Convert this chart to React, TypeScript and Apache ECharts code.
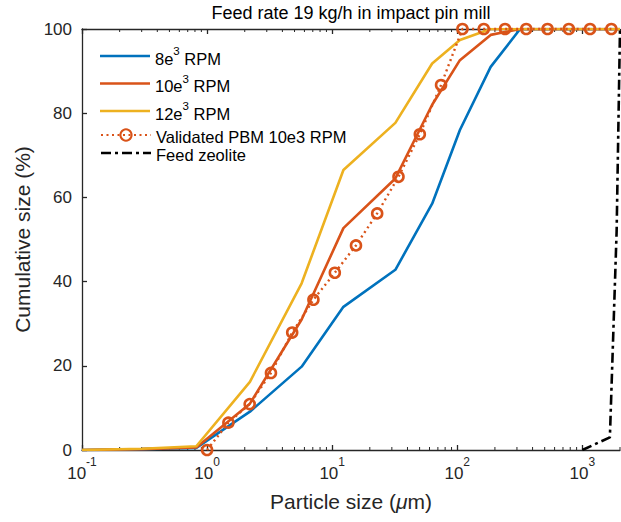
import React, { useEffect, useRef } from 'react';
import * as echarts from 'echarts';

const FONT = 'Liberation Sans, Arial, Helvetica, sans-serif';
const TXT = '#262626';

const seriesNames = ['8e3 RPM', '10e3 RPM', '12e3 RPM', 'Validated PBM 10e3 RPM', 'Feed zeolite'];
const seriesColors = ['#0072BD', '#D95319', '#EDB120', '#D95319', '#000000'];

const expSizes = [0.1, 0.3, 0.82, 2.2, 5.7, 12.3, 32, 63, 105, 185, 318, 2000];
const rpm8 = [0, 0.2, 0.5, 9.1, 19.8, 34.0, 42.8, 58.5, 76, 91, 100, 100];
const rpm10 = [0, 0.2, 0.6, 11, 31, 52.7, 64.5, 82, 92.6, 98.6, 100, 100];
const rpm12 = [0, 0.3, 0.9, 16.2, 39.6, 66.5, 77.7, 91.8, 97.4, 100, 100, 100];

const pbmSizes = [1.0, 1.48, 2.19, 3.24, 4.79, 7.08, 10.5, 15.5, 22.9, 33.9, 50.2, 74.2, 110, 163, 241, 356, 527, 780, 1153, 1706];
const pbmValues = [0, 6.5, 10.9, 18.3, 27.9, 35.7, 42.1, 48.6, 56.2, 64.9, 75.0, 86.7, 100, 100, 100, 100, 100, 100, 100, 100];

const feedSizes = [1000, 1660, 1880, 2000];
const feedValues = [0, 3, 52, 100];

const xMin = 0.1;
const xMax = 2000;
const yTicks = [0, 20, 40, 60, 80, 100];
const minorTicks = [
  0.2, 0.3, 0.4, 0.5, 0.6, 0.7, 0.8, 0.9,
  2, 3, 4, 5, 6, 7, 8, 9,
  20, 30, 40, 50, 60, 70, 80, 90,
  200, 300, 400, 500, 600, 700, 800, 900,
  2000,
];

const SOLID_ICON = 'path://M0,0H50V2.6H0Z';
const DASHDOT_ICON = 'path://M0,0H10V2.6H0Z M14,0H17V2.6H14Z M21,0H31V2.6H21Z M35,0H38V2.6H35Z M42,0H50V2.6H42Z';

const zip = (xs: number[], ys: number[]) => xs.map((x, i) => [x, ys[i]]);

export default function App() {
  const ref = useRef<HTMLDivElement>(null);
  useEffect(() => {
    if (!ref.current) return;
    const chart = echarts.init(ref.current, undefined, { renderer: 'svg' });
    const legendFmt = (name: string) => {
      const m = name.match(/^(\d+)e3 RPM$/);
      if (m) return `{n|${m[1]}e}{s|3}{n| RPM}`;
      return `{n|${name}}`;
    };
    const nStyle = { fontSize: 16.5, fontFamily: FONT, color: '#000', lineHeight: 22, verticalAlign: 'bottom' };
    const sStyle = { fontSize: 11.5, fontFamily: FONT, color: '#000', lineHeight: 22, verticalAlign: 'top' };
    const xLabelFmt = (v: number) => {
      const e = Math.log10(v);
      const r = Math.round(e);
      if (Math.abs(e - r) > 1e-6) return '';
      return `{b|10}{s|${r}}`;
    };
    const axisLineStyle = { color: TXT, width: 1.3 };
    const option: any = {
      animation: false,
      backgroundColor: '#fff',
      title: {
        text: 'Feed rate 19 kg/h in impact pin mill',
        left: 351,
        top: 4,
        padding: 0,
        textAlign: 'center',
        textStyle: { fontFamily: FONT, fontSize: 18, fontWeight: 'normal', color: '#000' },
      },
      grid: { left: 82, right: 1, top: 29, bottom: 72 },
      legend: [
        {
          data: seriesNames.slice(0, 3).map((n) => ({ name: n, icon: SOLID_ICON })),
          orient: 'vertical',
          left: 100,
          top: 45,
          padding: 0,
          itemWidth: 50,
          itemHeight: 14,
          itemGap: 5.5,
          symbolKeepAspect: true,
          formatter: legendFmt,
          textStyle: { fontFamily: FONT, fontSize: 16.5, color: '#000', rich: { n: nStyle, s: sStyle } },
          selectedMode: false,
        },
        {
          data: [
            { name: seriesNames[3] },
            { name: seriesNames[4], icon: DASHDOT_ICON },
          ],
          orient: 'vertical',
          left: 100,
          top: 128,
          padding: 0,
          itemWidth: 50,
          itemHeight: 14,
          itemGap: 1,
          symbolKeepAspect: true,
          formatter: legendFmt,
          textStyle: { fontFamily: FONT, fontSize: 16.5, color: '#000', rich: { n: { ...nStyle, lineHeight: 20 } } },
          selectedMode: false,
        },
      ],
      xAxis: [
        {
          type: 'log',
          logBase: 10,
          min: xMin,
          max: xMax,
          interval: 1,
          position: 'bottom',
          name: 'Particle size ({i|μ}m)',
          nameLocation: 'middle',
          nameGap: 41,
          nameTextStyle: {
            fontFamily: FONT,
            fontSize: 21,
            color: TXT,
            rich: { i: { fontFamily: FONT, fontSize: 21, fontStyle: 'italic', color: TXT } },
          },
          axisLine: { show: true, onZero: false, lineStyle: axisLineStyle },
          axisTick: { show: true, inside: true, length: 5, lineStyle: axisLineStyle },
          axisLabel: {
            showMaxLabel: false,
            margin: 6,
            formatter: xLabelFmt,
            rich: {
              b: { fontFamily: FONT, fontSize: 17, color: TXT, lineHeight: 26, verticalAlign: 'bottom' },
              s: { fontFamily: FONT, fontSize: 12, color: TXT, lineHeight: 26, verticalAlign: 'top' },
            },
          },
          splitLine: { show: false },
        },
        {
          type: 'log',
          logBase: 10,
          min: xMin,
          max: xMax,
          interval: 1,
          position: 'top',
          axisLine: { show: true, onZero: false, lineStyle: axisLineStyle },
          axisTick: { show: true, inside: true, length: 5, lineStyle: axisLineStyle },
          axisLabel: { show: false },
          splitLine: { show: false },
        },
      ],
      yAxis: {
        type: 'value',
        min: yTicks[0],
        max: yTicks[yTicks.length - 1],
        interval: 20,
        name: 'Cumulative size (%)',
        nameLocation: 'middle',
        nameGap: 46,
        nameTextStyle: { fontFamily: FONT, fontSize: 21, color: TXT },
        axisLine: { show: true, onZero: false, lineStyle: axisLineStyle },
        axisTick: { show: true, inside: true, length: 5, lineStyle: axisLineStyle },
        axisLabel: { fontFamily: FONT, fontSize: 17, color: TXT, margin: 10 },
        splitLine: { show: false },
      },
      series: [
        {
          type: 'custom',
          silent: true,
          clip: false,
          z: 1,
          data: minorTicks.map((v) => [v, 0]),
          renderItem: (params: any, api: any) => {
            const v = api.value(0);
            const b = api.coord([v, yTicks[0]]);
            const t = api.coord([v, yTicks[yTicks.length - 1]]);
            const st = { stroke: TXT, lineWidth: 1 };
            return {
              type: 'group',
              children: [
                { type: 'line', shape: { x1: b[0], y1: b[1], x2: b[0], y2: b[1] - 3 }, style: st },
                { type: 'line', shape: { x1: t[0], y1: t[1], x2: t[0], y2: t[1] + 3 }, style: st },
              ],
            };
          },
        },
        {
          name: seriesNames[0],
          type: 'line',
          data: zip(expSizes, rpm8),
          symbol: 'none',
          color: seriesColors[0],
          lineStyle: { width: 2.6, color: seriesColors[0] },
          z: 3,
        },
        {
          name: seriesNames[1],
          type: 'line',
          data: zip(expSizes, rpm10),
          symbol: 'none',
          color: seriesColors[1],
          lineStyle: { width: 2.6, color: seriesColors[1] },
          z: 4,
        },
        {
          name: seriesNames[2],
          type: 'line',
          data: zip(expSizes, rpm12),
          symbol: 'none',
          color: seriesColors[2],
          lineStyle: { width: 2.6, color: seriesColors[2] },
          z: 5,
        },
        {
          name: seriesNames[3],
          type: 'line',
          data: zip(pbmSizes, pbmValues),
          symbol: 'circle',
          symbolSize: 10,
          clip: false,
          itemStyle: { color: 'rgba(255,255,255,0)', borderColor: seriesColors[3], borderWidth: 2.6 },
          lineStyle: { width: 2.4, color: seriesColors[3], type: [2, 3.5] },
          z: 6,
        },
        {
          name: seriesNames[4],
          type: 'line',
          data: zip(feedSizes, feedValues),
          symbol: 'none',
          color: seriesColors[4],
          lineStyle: { width: 2.6, color: seriesColors[4], type: [10, 4, 3, 4] },
          z: 7,
        },
      ],
    };
    chart.setOption(option);
    return () => chart.dispose();
  }, []);
  return (
    <div style={{ position: 'absolute', left: 0, top: 0, width: 621, height: 522, overflow: 'hidden', background: '#fff' }}>
      <div ref={ref} style={{ width: 621, height: 522 }} />
    </div>
  );
}
